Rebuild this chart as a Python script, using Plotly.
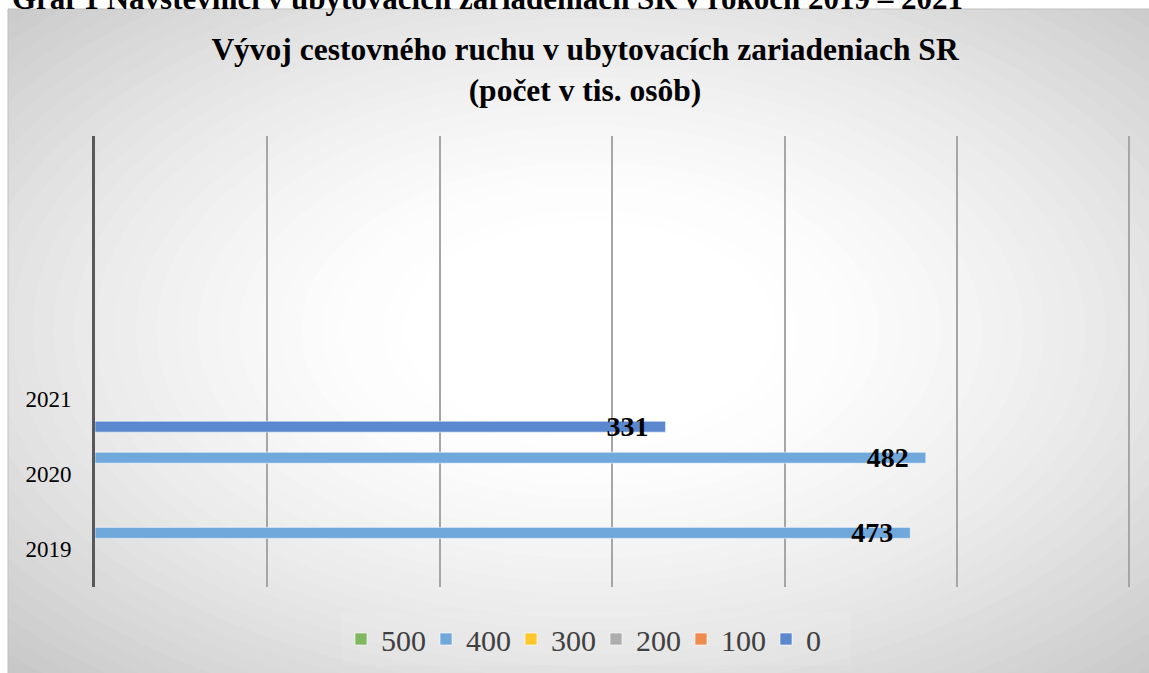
from __future__ import annotations

import plotly.graph_objects as go

# values (tis. osôb)
years = [2019, 2020, 2021]
series_names = ["0", "100", "200", "300", "400", "500"]
values_0 = [None, None, 331]
values_100 = [None, None, None]
values_200 = [None, None, None]
values_300 = [None, None, None]
values_400 = [473, 482, None]
values_500 = [None, None, None]

title_text = "Vývoj cestovného ruchu v ubytovacích zariadeniach SR<br>(počet v tis. osôb)"
caption_text = "Graf 1 Návštevníci v ubytovacích zariadeniach SR v rokoch 2019 – 2021"

W, H = 1149, 673
MARGIN = dict(l=95, r=18, t=136, b=86)
FONT = "Liberation Serif"
COLORS = ["#5A87CE", "#EE8C4F", "#ADADAD", "#FFC72C", "#70A8DC", "#80B862"]


def px_x(px: float) -> float:
    """pixel column -> paper x."""
    return (px - MARGIN["l"]) / (W - MARGIN["l"] - MARGIN["r"])


def px_y(px: float) -> float:
    """pixel row -> paper y."""
    return (H - MARGIN["b"] - px) / (H - MARGIN["t"] - MARGIN["b"])


def background_shapes(steps: int = 40) -> list:
    """Radial grey -> white fill like the Excel chart area, plus frame."""
    shapes = []
    cx, cy, rb = 590, 330, 480
    for i in range(steps):
        t = 1 - i / steps
        k = max(t - 0.2, 0) / 0.8
        g = int(round(255 - 55 * k ** 1.5))
        b = rb * t
        a = 1.72 * b
        shapes.append(dict(
            type="circle", xref="paper", yref="paper", layer="below",
            x0=px_x(cx - a), x1=px_x(cx + a), y0=px_y(cy + b), y1=px_y(cy - b),
            fillcolor=f"rgb({g},{g},{g})", line=dict(width=0),
        ))
    # white page outside the chart box
    shapes.append(dict(type="rect", xref="paper", yref="paper", layer="below",
                       x0=px_x(-5), x1=px_x(W + 5), y0=px_y(9), y1=px_y(-5),
                       fillcolor="white", line=dict(width=0)))
    shapes.append(dict(type="rect", xref="paper", yref="paper", layer="below",
                       x0=px_x(-5), x1=px_x(8), y0=px_y(H + 5), y1=px_y(-5),
                       fillcolor="white", line=dict(width=0)))
    shapes.append(dict(type="rect", xref="paper", yref="paper", layer="below",
                       x0=px_x(8), x1=px_x(W + 10), y0=px_y(H + 10), y1=px_y(9),
                       fillcolor="rgba(0,0,0,0)", line=dict(color="#BFBFBF", width=1)))
    return shapes


def build_figure() -> go.Figure:
    """Horizontal grouped bars, one trace per legend entry."""
    fig = go.Figure()
    all_values = [values_0, values_100, values_200, values_300, values_400, values_500]
    for name, vals, color in zip(series_names, all_values, COLORS):
        fig.add_trace(
            go.Bar(
                x=vals,
                y=years,
                orientation="h",
                name=name,
                marker=dict(color=color, line=dict(color="rgba(255,255,255,0.6)", width=1)),
                texttemplate="%{x}\u00a0\u00a0",
                textposition="inside",
                insidetextanchor="end",
                textangle=0,
                textfont=dict(family=FONT, size=28, color="black", weight="bold"),
                cliponaxis=False,
            )
        )

    fig.update_layout(
        width=W,
        height=H,
        margin=MARGIN,
        barmode="group",
        bargap=0.12,
        bargroupgap=0,
        paper_bgcolor="#C8C8C8",
        plot_bgcolor="rgba(0,0,0,0)",
        font=dict(family=FONT, color="black"),
        uniformtext=dict(minsize=28, mode="show"),
        title=dict(
            text=f"<b>{title_text}</b>",
            x=585 / W,
            xanchor="center",
            y=1 - 60 / H,
            yanchor="top",
            font=dict(family=FONT, size=31.5, color="black"),
        ),
        legend=dict(
            orientation="h",
            traceorder="reversed",
            xref="container",
            yref="container",
            x=341 / W,
            xanchor="left",
            y=1 - 639 / H,
            yanchor="middle",
            entrywidth=40,
            font=dict(family=FONT, size=30, color="#404040"),
            bgcolor="rgba(255,255,255,0.08)",
        ),
        shapes=background_shapes(),
        showlegend=True,
    )
    fig.update_xaxes(
        range=[0, 601],  # keep the 600 gridline at the right edge
        dtick=100,
        showgrid=True,
        gridcolor="#A6A6A6",
        gridwidth=1.5,
        zeroline=False,
        showticklabels=False,
        fixedrange=True,
    )
    fig.update_yaxes(
        range=[2018.5, 2024.5],
        tickvals=years,
        ticktext=[str(y) for y in years],
        showgrid=False,
        zeroline=False,
        showline=True,
        linecolor="#595959",
        linewidth=3,
        ticks="",
        ticklabelstandoff=16,
        tickfont=dict(family=FONT, size=23, color="black"),
        fixedrange=True,
    )
    fig.add_annotation(
        text=f"<b>{caption_text}</b>",
        xref="paper", yref="paper",
        x=px_x(10), xanchor="left",
        y=px_y(-2), yanchor="middle",
        showarrow=False,
        font=dict(family=FONT, size=31, color="black"),
    )
    return fig


fig = build_figure()
fig.write_html(
    "out.html",
    config={"displayModeBar": False},
    post_script="document.body.style.margin = '0'; document.body.style.overflow = 'hidden';",
)
